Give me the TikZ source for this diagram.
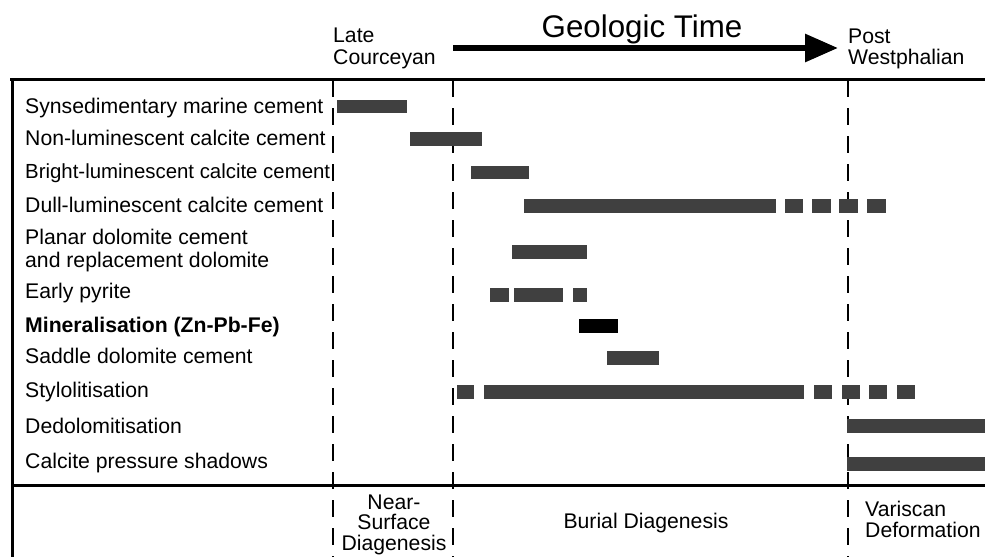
\documentclass[tikz,border=0pt]{standalone}
\usepackage{fontspec}
\setmainfont{Liberation Sans}
\usetikzlibrary{arrows.meta}
\begin{document}
\begin{tikzpicture}[x=1pt,y=-1pt,
  lbl/.style={anchor=base west,inner sep=0pt,font=\fontsize{21.2}{21}\selectfont},
  ctr/.style={anchor=base,inner sep=0pt,font=\fontsize{21.2}{21}\selectfont,align=center},
  bar/.style={fill=black!75},
  frame/.style={line width=3pt},
  period/.style={line width=2.4pt,dash pattern=on 17pt off 11pt}]
\useasboundingbox (0,0) rectangle (985,557);
% header (base anchor = last line)
\node[lbl,align=left] (late) at (333,64) {Late\\[1pt]Courceyan};
\node[lbl,align=left] (post) at (848,64) {Post\\[0pt]Westphalian};
\node[anchor=base,inner sep=0pt,font=\fontsize{31.3}{31}\selectfont] (gt) at (642,37) {Geologic Time};
\coordinate (as) at (453,48);
\coordinate (ae) at (838,48);
\draw[line width=6pt,-{Triangle[length=33pt,width=27pt]}] (as) -- (ae);
% frame
\coordinate (tl) at (10,79);
\coordinate (tr) at (985,79);
\coordinate (ml) at (12,485);
\coordinate (mr) at (985,485);
\coordinate (bl) at (12,557);
\draw[frame] (tl) -- (tr);
\draw[frame] (12,78) -- (bl);
\draw[frame] (ml) -- (mr);
% period lines
\foreach \x/\n in {333/p1,453/p2,848/p3}{
  \coordinate (\n t) at (\x,80);
  \coordinate (\n b) at (\x,557);
  \draw[period] (\n t) -- (\n b);
}
% row labels
\node[lbl] (r1) at (25,113) {Synsedimentary marine cement};
\node[lbl] (r2) at (25,145) {Non-luminescent calcite cement};
\node[lbl,font=\fontsize{20.4}{21}\selectfont] (r3) at (25,178) {Bright-luminescent calcite cement};
\node[lbl] (r4) at (25,212) {Dull-luminescent calcite cement};
\node[lbl,align=left] (r5) at (25,267) {Planar dolomite cement\\[2pt]and replacement dolomite};
\node[lbl] (r6) at (25,298) {Early pyrite};
\node[lbl,font=\fontsize{21.2}{21}\selectfont\bfseries] (r7) at (25,332) {Mineralisation (Zn-Pb-Fe)};
\node[lbl] (r8) at (25,363) {Saddle dolomite cement};
\node[lbl] (r9) at (25,397) {Stylolitisation};
\node[lbl] (r10) at (25,433) {Dedolomitisation};
\node[lbl] (r11) at (25,468) {Calcite pressure shadows};
% bars
\fill[bar] (337,100) rectangle (407,113);
\fill[bar] (410,132) rectangle (482,146);
\fill[bar] (471,166) rectangle (529,179);
\fill[bar] (524,199) rectangle (776,213);
\foreach \a/\b in {785/803,812/831,839/858,867/886} \fill[bar] (\a,199) rectangle (\b,213);
\fill[bar] (512,245) rectangle (587,259);
\foreach \a/\b in {490/509,514/563,573/587} \fill[bar] (\a,288) rectangle (\b,302);
\fill[black] (579,319) rectangle (618,333);
\fill[bar] (607,351) rectangle (659,365);
\foreach \a/\b in {457/474,484/804,814/832,842/860,869/887,897/915} \fill[bar] (\a,385) rectangle (\b,399);
\fill[bar] (847,419) rectangle (985,433);
\fill[bar] (847,457) rectangle (985,471);
% bottom labels
\node[ctr] (ns) at (394,550) {Near-\\[-0.5pt]Surface\\[-0.5pt]Diagenesis};
\node[ctr] (bd) at (646,528) {Burial Diagenesis};
\node[lbl,align=left] (vd) at (865,537) {Variscan\\[0pt]Deformation};
\end{tikzpicture}
\end{document}
